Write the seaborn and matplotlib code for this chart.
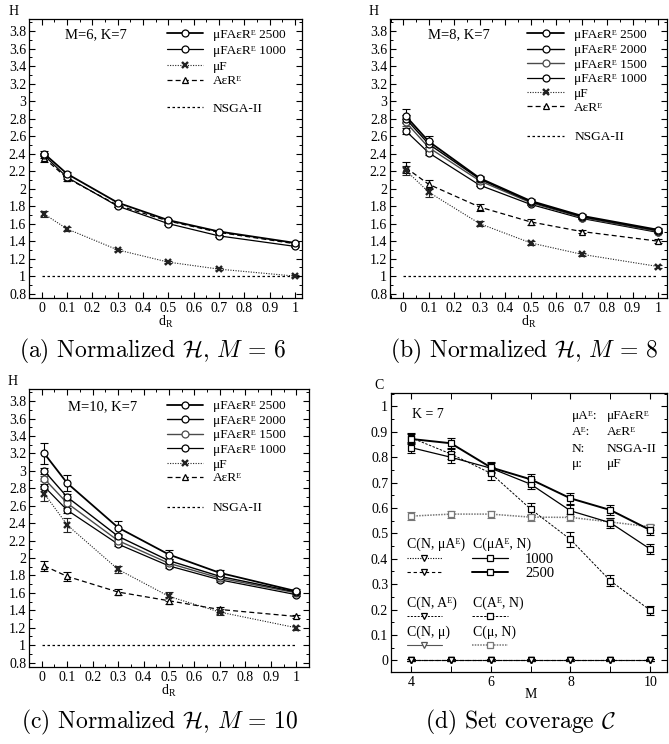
import matplotlib
matplotlib.use("Agg")
import matplotlib.pyplot as plt
import seaborn as sns
from matplotlib.ticker import MultipleLocator, FuncFormatter

# ---------------- data ----------------
d_r = [0.01, 0.1, 0.3, 0.5, 0.7, 1.0]
nsga_x = [0.0, 1.0]
nsga_h = [1.0, 1.0]

# (a) M = 6
h6_2500 = [2.40, 2.17, 1.84, 1.64, 1.51, 1.38]
h6_1000 = [2.38, 2.13, 1.80, 1.60, 1.46, 1.34]
h6_muf = [1.71, 1.54, 1.30, 1.16, 1.08, 1.00]
h6_aer = [2.35, 2.12, 1.81, 1.63, 1.50, 1.37]
e6_2500 = [0.03, 0.02, 0.015, 0.015, 0.01, 0.01]
e6_1000 = [0.03, 0.02, 0.015, 0.01, 0.01, 0.01]
e6_muf = [0.035, 0.025, 0.015, 0.015, 0.01, 0.01]
e6_aer = [0.05, 0.03, 0.02, 0.015, 0.01, 0.01]

# (b) M = 8
h8_2500 = [2.83, 2.54, 2.12, 1.86, 1.69, 1.53]
h8_2000 = [2.80, 2.51, 2.11, 1.85, 1.68, 1.52]
h8_1500 = [2.76, 2.47, 2.09, 1.84, 1.67, 1.51]
h8_1000 = [2.66, 2.41, 2.04, 1.82, 1.66, 1.50]
h8_muf = [2.21, 1.96, 1.60, 1.38, 1.25, 1.11]
h8_aer = [2.24, 2.05, 1.79, 1.62, 1.51, 1.40]
e8_2500 = [0.08, 0.06, 0.03, 0.02, 0.02, 0.02]
e8_2000 = [0.04, 0.03, 0.02, 0.015, 0.015, 0.015]
e8_1500 = [0.04, 0.03, 0.02, 0.015, 0.015, 0.015]
e8_1000 = [0.03, 0.02, 0.015, 0.01, 0.01, 0.01]
e8_muf = [0.05, 0.05, 0.03, 0.02, 0.02, 0.015]
e8_aer = [0.06, 0.05, 0.04, 0.03, 0.02, 0.02]

# (c) M = 10
h10_2500 = [3.20, 2.86, 2.35, 2.04, 1.83, 1.62]
h10_2000 = [3.00, 2.70, 2.25, 1.97, 1.79, 1.61]
h10_1500 = [2.91, 2.63, 2.20, 1.94, 1.77, 1.60]
h10_1000 = [2.82, 2.55, 2.16, 1.91, 1.75, 1.58]
h10_muf = [2.74, 2.38, 1.87, 1.56, 1.38, 1.20]
h10_aer = [1.91, 1.79, 1.61, 1.51, 1.41, 1.33]
e10_2500 = [0.12, 0.09, 0.07, 0.05, 0.03, 0.02]
e10_2000 = [0.03, 0.03, 0.02, 0.02, 0.02, 0.015]
e10_1500 = [0.03, 0.03, 0.02, 0.02, 0.02, 0.015]
e10_1000 = [0.03, 0.03, 0.02, 0.02, 0.02, 0.015]
e10_muf = [0.09, 0.08, 0.04, 0.05, 0.03, 0.02]
e10_aer = [0.06, 0.05, 0.03, 0.04, 0.03, 0.02]

# (d) set coverage
m_vals = [4, 5, 6, 7, 8, 9, 10]
c_mua_n_1000 = [0.838, 0.800, 0.757, 0.694, 0.589, 0.542, 0.438]
c_mua_n_2500 = [0.872, 0.855, 0.760, 0.713, 0.638, 0.592, 0.513]
c_ae_n = [0.877, 0.813, 0.737, 0.596, 0.476, 0.313, 0.197]
c_mu_n = [0.568, 0.576, 0.576, 0.564, 0.563, 0.545, 0.526]
c_n_mua_1000 = [0.0, 0.0, 0.0, 0.0, 0.0, 0.0, 0.0]
c_n_mua_2500 = [0.0, 0.0, 0.0, 0.0, 0.0, 0.0, 0.0]
c_n_ae = [0.0, 0.0, 0.0, 0.0, 0.0, 0.0, 0.0]
c_n_mu = [0.0, 0.0, 0.0, 0.0, 0.0, 0.0, 0.0]
ec_mua_n_1000 = [0.022, 0.022, 0.02, 0.02, 0.022, 0.02, 0.02]
ec_mua_n_2500 = [0.02, 0.02, 0.02, 0.02, 0.022, 0.02, 0.02]
ec_ae_n = [0.02, 0.02, 0.025, 0.025, 0.028, 0.022, 0.018]
ec_mu_n = [0.016, 0.014, 0.014, 0.014, 0.014, 0.014, 0.012]
ec_zero = [0.004, 0.004, 0.004, 0.004, 0.004, 0.004, 0.004]

# ---------------- style ----------------
sns.set_theme(style="ticks")
plt.rcParams.update({
    "font.family": ["Liberation Serif", "DejaVu Serif", "DejaVu Sans"],
    "mathtext.fontset": "custom",
    "mathtext.rm": "Liberation Serif",
    "mathtext.it": "Liberation Serif:italic",
    "mathtext.bf": "Liberation Serif:bold",
    "text.color": "black",
    "axes.edgecolor": "black",
    "axes.labelcolor": "black",
    "xtick.color": "black",
    "ytick.color": "black",
    "axes.linewidth": 0.9,
    "xtick.direction": "in",
    "ytick.direction": "in",
    "xtick.top": True,
    "ytick.right": True,
    "xtick.major.size": 4.5, "ytick.major.size": 4.5,
    "xtick.minor.size": 2.5, "ytick.minor.size": 2.5,
    "xtick.major.width": 0.8, "ytick.major.width": 0.8,
    "xtick.minor.width": 0.7, "ytick.minor.width": 0.7,
    "xtick.major.pad": 3, "ytick.major.pad": 2,
    "xtick.labelsize": 10, "ytick.labelsize": 10,
    "axes.facecolor": "white",
    "figure.facecolor": "white",
})

ST = {
    "2500": dict(color="black", ls="-", lw=1.3, marker="o", ms=5, mfc="white", mew=0.9),
    "2000": dict(color="black", ls="-", lw=1.0, marker="o", ms=5, mfc="white", mew=0.9),
    "1500": dict(color="#4a4a4a", ls="-", lw=1.0, marker="o", ms=5, mfc="white", mew=0.9),
    "1000": dict(color="black", ls="-", lw=0.9, marker="o", ms=5, mfc="white", mew=0.9),
    "muf": dict(color="#222222", ls=(0, (1, 1.3)), lw=0.8, marker="x", ms=4, mfc="none", mew=1.7),
    "aer": dict(color="black", ls=(0, (4, 2.5)), lw=0.9, marker="^", ms=4.2, mfc="white", mew=0.9),
    "nsga": dict(color="black", ls=(0, (2, 2)), lw=0.9, marker="", ms=0, mfc="none", mew=0),
    # set coverage
    "c1000": dict(color="black", ls="-", lw=0.9, marker="s", ms=3.8, mfc="white", mew=0.9),
    "c2500": dict(color="black", ls="-", lw=1.4, marker="s", ms=3.8, mfc="white", mew=0.9),
    "cae": dict(color="black", ls=(0, (2.5, 1.5)), lw=0.7, marker="s", ms=3.8, mfc="white", mew=0.9),
    "cmu": dict(color="#777777", ls=(0, (1, 0.8)), lw=1.1, marker="s", ms=3.8, mfc="white", mew=0.9),
    "cn1000": dict(color="black", ls=(0, (1, 1.3)), lw=0.8, marker="v", ms=4, mfc="white", mew=0.9),
    "cn2500": dict(color="black", ls=(0, (3, 2.5)), lw=0.8, marker="v", ms=4, mfc="white", mew=0.9),
    "cnae": dict(color="black", ls=(0, (2, 1.5)), lw=0.7, marker="v", ms=4, mfc="white", mew=0.9),
    "cnmu": dict(color="#555555", ls="-", lw=0.8, marker="v", ms=4, mfc="white", mew=0.9),
}

LFS = 9.6


def series(ax, x, y, err, st):
    if err is not None:
        ax.errorbar(x, y, yerr=err, fmt="none", ecolor=st["color"], elinewidth=0.8,
                    capsize=3, capthick=0.8, zorder=2)
    sns.lineplot(x=x, y=y, ax=ax, sort=False, errorbar=None, estimator=None,
                 color=st["color"], linestyle=st["ls"], linewidth=st["lw"],
                 marker=st["marker"], markersize=st["ms"], markerfacecolor=st["mfc"],
                 markeredgecolor=st["color"], markeredgewidth=st["mew"], zorder=3)


def sample(ax, x0, x1, y, st, text=None, xt=None, fs=LFS):
    ax.plot([x0, x1], [y, y], transform=ax.transAxes, color=st["color"], linestyle=st["ls"],
            linewidth=st["lw"], clip_on=False, zorder=4)
    if st["marker"]:
        ax.plot([(x0 + x1) / 2], [y], transform=ax.transAxes, color=st["color"], linestyle="",
                marker=st["marker"], markersize=st["ms"], markerfacecolor=st["mfc"],
                markeredgecolor=st["color"], markeredgewidth=st["mew"], clip_on=False, zorder=5)
    if text is not None:
        ax.text(xt, y, text, transform=ax.transAxes, ha="left", va="center_baseline", fontsize=fs)


def atext(ax, x, y, s, fs=LFS):
    ax.text(x, y, s, transform=ax.transAxes, ha="left", va="center_baseline", fontsize=fs)


fmt = FuncFormatter(lambda v, p: "%g" % round(v, 3))

W, H = 669.0, 744.0
fig = plt.figure(figsize=(W / 100, H / 100), dpi=100)


def px_axes(left, top, right, bottom):
    return fig.add_axes([left / W, 1 - bottom / H, (right - left) / W, (bottom - top) / H])


def setup_h(ax, xlim):
    ax.set_xlim(*xlim)
    ax.set_ylim(0.75, 3.94)
    ax.xaxis.set_major_locator(MultipleLocator(0.1))
    ax.xaxis.set_minor_locator(MultipleLocator(0.05))
    ax.yaxis.set_major_locator(MultipleLocator(0.2))
    ax.yaxis.set_minor_locator(MultipleLocator(0.1))
    ax.xaxis.set_major_formatter(fmt)
    ax.yaxis.set_major_formatter(fmt)
    ax.tick_params(which="both", top=True, right=True, direction="in")
    ax.set_xlabel(r"d$_{\mathrm{R}}$", fontsize=10)
    ax.xaxis.set_label_coords(0.5, -0.058)
    ax.set_ylabel("H", rotation=0, fontsize=10, ha="center", va="bottom")
    ax.yaxis.set_label_coords(-0.058, 1.004)


SUP = "\u1d31"  # modifier letter capital E (superscript E)
lab_mufa = "μFAεR" + SUP + " "
lab_aer = "AεR" + SUP

# ---------- (a) ----------
axa = px_axes(29, 19, 302, 298)
setup_h(axa, (-0.05, 1.027))
series(axa, nsga_x, nsga_h, None, ST["nsga"])
series(axa, d_r, h6_aer, e6_aer, ST["aer"])
series(axa, d_r, h6_muf, e6_muf, ST["muf"])
series(axa, d_r, h6_1000, e6_1000, ST["1000"])
series(axa, d_r, h6_2500, e6_2500, ST["2500"])
atext(axa, 0.132, 0.95, "M=6, K=7", fs=10.5)
lx0, lx1, lt = 0.505, 0.637, 0.674
sample(axa, lx0, lx1, 0.949, ST["2500"], lab_mufa + "2500", lt)
sample(axa, lx0, lx1, 0.892, ST["1000"], lab_mufa + "1000", lt)
sample(axa, lx0, lx1, 0.835, ST["muf"], "μF", lt)
sample(axa, lx0, lx1, 0.783, ST["aer"], lab_aer, lt)
sample(axa, lx0, lx1, 0.683, ST["nsga"], "NSGA-II", lt)

# ---------- (b) ----------
axb = px_axes(390, 19, 667, 298)
setup_h(axb, (-0.052, 1.035))
series(axb, nsga_x, nsga_h, None, ST["nsga"])
series(axb, d_r, h8_aer, e8_aer, ST["aer"])
series(axb, d_r, h8_muf, e8_muf, ST["muf"])
series(axb, d_r, h8_1000, e8_1000, ST["1000"])
series(axb, d_r, h8_1500, e8_1500, ST["1500"])
series(axb, d_r, h8_2000, e8_2000, ST["2000"])
series(axb, d_r, h8_2500, e8_2500, ST["2500"])
atext(axb, 0.137, 0.95, "M=8, K=7", fs=10.5)
lx0, lx1, lt = 0.496, 0.629, 0.665
sample(axb, lx0, lx1, 0.949, ST["2500"], lab_mufa + "2500", lt)
sample(axb, lx0, lx1, 0.894, ST["2000"], lab_mufa + "2000", lt)
sample(axb, lx0, lx1, 0.841, ST["1500"], lab_mufa + "1500", lt)
sample(axb, lx0, lx1, 0.789, ST["1000"], lab_mufa + "1000", lt)
sample(axb, lx0, lx1, 0.737, ST["muf"], "μF", lt)
sample(axb, lx0, lx1, 0.688, ST["aer"], lab_aer, lt)
sample(axb, lx0, lx1, 0.581, ST["nsga"], "NSGA-II", lt)

# ---------- (c) ----------
axc = px_axes(29, 389, 309, 667)
setup_h(axc, (-0.05, 1.05))
series(axc, nsga_x, nsga_h, None, ST["nsga"])
series(axc, d_r, h10_aer, e10_aer, ST["aer"])
series(axc, d_r, h10_muf, e10_muf, ST["muf"])
series(axc, d_r, h10_1000, e10_1000, ST["1000"])
series(axc, d_r, h10_1500, e10_1500, ST["1500"])
series(axc, d_r, h10_2000, e10_2000, ST["2000"])
series(axc, d_r, h10_2500, e10_2500, ST["2500"])
atext(axc, 0.138, 0.943, "M=10, K=7", fs=10.5)
lx0, lx1, lt = 0.493, 0.621, 0.657
sample(axc, lx0, lx1, 0.944, ST["2500"], lab_mufa + "2500", lt)
sample(axc, lx0, lx1, 0.892, ST["2000"], lab_mufa + "2000", lt)
sample(axc, lx0, lx1, 0.839, ST["1500"], lab_mufa + "1500", lt)
sample(axc, lx0, lx1, 0.786, ST["1000"], lab_mufa + "1000", lt)
sample(axc, lx0, lx1, 0.733, ST["muf"], "μF", lt)
sample(axc, lx0, lx1, 0.684, ST["aer"], lab_aer, lt)
sample(axc, lx0, lx1, 0.577, ST["nsga"], "NSGA-II", lt)

# ---------- (d) ----------
axd = px_axes(391, 393, 667, 672)
axd.set_xlim(3.5, 10.42)
axd.set_ylim(-0.046, 1.053)
axd.xaxis.set_major_locator(MultipleLocator(2))
axd.xaxis.set_minor_locator(MultipleLocator(1))
axd.yaxis.set_major_locator(MultipleLocator(0.1))
axd.yaxis.set_minor_locator(MultipleLocator(0.05))
axd.xaxis.set_major_formatter(fmt)
axd.yaxis.set_major_formatter(fmt)
axd.tick_params(which="both", top=True, right=True, direction="in")
axd.tick_params(axis="x", which="minor", length=4)
axd.set_xlabel("M", fontsize=10)
axd.xaxis.set_label_coords(0.507, -0.058)
axd.set_ylabel("C", rotation=0, fontsize=10, ha="center", va="bottom")
axd.yaxis.set_label_coords(-0.043, 1.004)

series(axd, m_vals, c_n_mu, ec_zero, ST["cnmu"])
series(axd, m_vals, c_n_ae, ec_zero, ST["cnae"])
series(axd, m_vals, c_n_mua_2500, ec_zero, ST["cn2500"])
series(axd, m_vals, c_n_mua_1000, ec_zero, ST["cn1000"])
series(axd, m_vals, c_mu_n, ec_mu_n, ST["cmu"])
series(axd, m_vals, c_ae_n, ec_ae_n, ST["cae"])
series(axd, m_vals, c_mua_n_1000, ec_mua_n_1000, ST["c1000"])
series(axd, m_vals, c_mua_n_2500, ec_mua_n_2500, ST["c2500"])

atext(axd, 0.076, 0.929, "K = 7", fs=10)
defs = [("μA" + SUP + ":", "μFAεR" + SUP), ("A" + SUP + ":", "AεR" + SUP), ("N:", "NSGA-II"), ("μ:", "μF")]
for (k, v), yy in zip(defs, [0.922, 0.864, 0.806, 0.750]):
    atext(axd, 0.655, yy, k)
    atext(axd, 0.783, yy, v)

c1x, c2x = 0.057, 0.297
atext(axd, c1x, 0.463, "C(N, μA" + SUP + ")", fs=10)
atext(axd, c2x, 0.463, "C(μA" + SUP + ", N)", fs=10)
sample(axd, 0.057, 0.184, 0.410, ST["cn1000"])
sample(axd, 0.293, 0.424, 0.410, ST["c1000"], "1000", 0.486, fs=10.5)
sample(axd, 0.057, 0.184, 0.358, ST["cn2500"])
sample(axd, 0.293, 0.424, 0.358, ST["c2500"], "2500", 0.486, fs=10.5)
atext(axd, c1x, 0.253, "C(N, A" + SUP + ")", fs=10)
atext(axd, c2x, 0.253, "C(A" + SUP + ", N)", fs=10)
sample(axd, 0.057, 0.184, 0.200, ST["cnae"])
sample(axd, 0.293, 0.424, 0.200, ST["cae"])
atext(axd, c1x, 0.149, "C(N, μ)", fs=10)
atext(axd, c2x, 0.149, "C(μ, N)", fs=10)
sample(axd, 0.057, 0.184, 0.097, ST["cnmu"])
sample(axd, 0.293, 0.424, 0.097, ST["cmu"])

# ---------- captions ----------
cap_kw = dict(ha="center", va="center", fontsize=17, family="cmr10", math_fontfamily="cm")
fig.text(152 / W, 1 - 351 / H, r"(a) Normalized $\mathcal{H}$, $M\,=\,6$", **cap_kw)
fig.text(524 / W, 1 - 351 / H, r"(b) Normalized $\mathcal{H}$, $M\,=\,8$", **cap_kw)
fig.text(160 / W, 1 - 722 / H, r"(c) Normalized $\mathcal{H}$, $M\,=\,10$", **cap_kw)
fig.text(520 / W, 1 - 722 / H, r"(d) Set coverage $\mathcal{C}$", **cap_kw)

fig.savefig("out.png", dpi=100)
